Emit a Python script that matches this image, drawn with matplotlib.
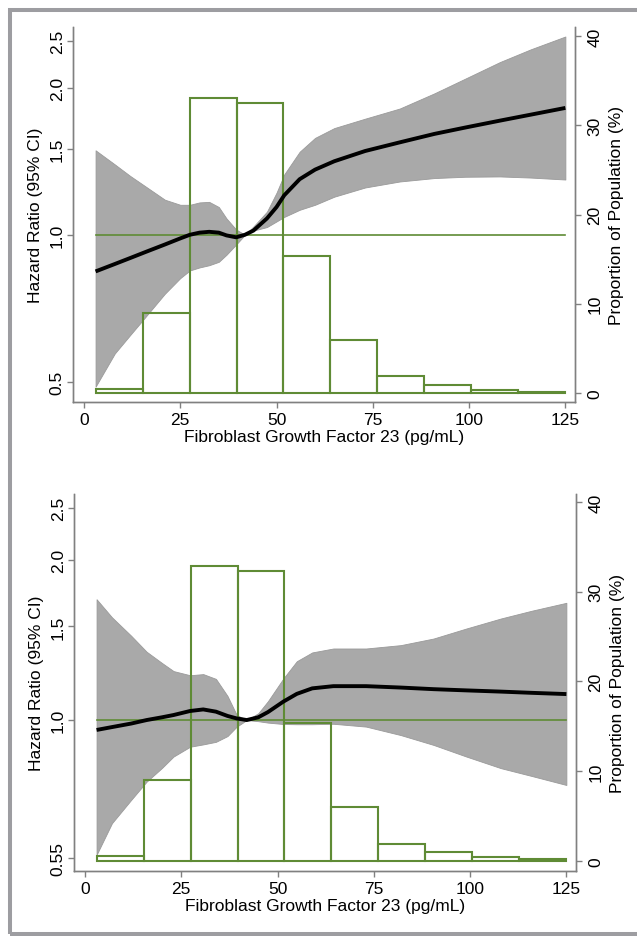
import numpy as np
import matplotlib
matplotlib.use('Agg')
import matplotlib.pyplot as plt
from matplotlib.patches import Rectangle
from matplotlib.ticker import NullLocator

plt.rcParams['font.family'] = ['Liberation Sans', 'DejaVu Sans']

# ---------------------------------------------------------------------------
# Data
# ---------------------------------------------------------------------------
bin_edges = [3.0, 15.2, 27.4, 39.6, 51.8, 64.0, 76.2, 88.4, 100.6, 112.8, 125.0]

# top panel
top_x = [3, 8, 12, 16, 21, 25, 27.5, 30, 32.5, 35, 37, 39.5, 41.8, 44, 47.5,
         50, 52, 56, 60, 65, 73, 82, 91, 99, 108, 116, 125]
top_hr = [0.841, 0.871, 0.896, 0.922, 0.955, 0.983, 1.000, 1.010, 1.014, 1.010,
          0.997, 0.988, 1.000, 1.020, 1.080, 1.140, 1.205, 1.300, 1.360, 1.415,
          1.485, 1.547, 1.610, 1.659, 1.714, 1.763, 1.820]
top_hi = [1.490, 1.394, 1.320, 1.256, 1.180, 1.152, 1.152, 1.165, 1.168, 1.140,
          1.080, 1.025, 1.000, 1.040, 1.115, 1.220, 1.330, 1.480, 1.580, 1.655,
          1.730, 1.815, 1.950, 2.090, 2.260, 2.400, 2.550]
top_lo = [0.488, 0.571, 0.623, 0.679, 0.757, 0.815, 0.845, 0.857, 0.866, 0.880,
          0.910, 0.955, 1.000, 1.020, 1.037, 1.065, 1.088, 1.125, 1.152, 1.197,
          1.250, 1.286, 1.307, 1.315, 1.317, 1.310, 1.298]
top_pct = [0.5, 9.0, 33.0, 32.5, 15.3, 5.9, 1.9, 0.95, 0.4, 0.1]

# bottom panel
bot_x = [3, 7, 12, 16, 20, 23, 27.3, 30.7, 34, 37, 39.4, 42, 45, 47.5, 51.5,
         55, 59, 64.5, 73, 82, 90.5, 99, 108, 116, 125]
bot_hr = [0.958, 0.970, 0.985, 1.000, 1.012, 1.022, 1.040, 1.047, 1.037, 1.018,
          1.007, 1.000, 1.012, 1.035, 1.083, 1.120, 1.147, 1.158, 1.158, 1.151,
          1.143, 1.137, 1.131, 1.125, 1.119]
bot_hi = [1.687, 1.560, 1.440, 1.344, 1.280, 1.236, 1.214, 1.220, 1.195, 1.110,
          1.022, 1.000, 1.030, 1.085, 1.197, 1.290, 1.340, 1.363, 1.363, 1.383,
          1.423, 1.486, 1.552, 1.605, 1.661]
bot_lo = [0.558, 0.640, 0.708, 0.766, 0.813, 0.854, 0.891, 0.900, 0.910, 0.933,
          0.972, 1.000, 0.995, 0.989, 0.983, 0.982, 0.982, 0.984, 0.972, 0.937,
          0.898, 0.854, 0.812, 0.785, 0.755]
bot_pct = [0.55, 9.0, 32.9, 32.3, 15.4, 5.95, 1.9, 1.0, 0.45, 0.2]

x_ticks = [0, 25, 50, 75, 100, 125]
pct_ticks = [0, 10, 20, 30, 40]
top_hr_ticks = [0.5, 1.0, 1.5, 2.0, 2.5]
top_hr_labels = ['0.5', '1.0', '1.5', '2.0', '2.5']
bot_hr_ticks = [0.55, 1.0, 1.5, 2.0, 2.5]
bot_hr_labels = ['0.55', '1.0', '1.5', '2.0', '2.5']

# ---------------------------------------------------------------------------
# Styling
# ---------------------------------------------------------------------------
W, H = 637, 937
band_color = '#a9a9a9'
band_edge = '#9a9a9a'
green = '#5f8b35'
spine_color = '#808080'
frame_color = '#9d9da1'
fs = 12.5


def px_axes(left, right, top, bottom):
    return [left / W, 1 - bottom / H, (right - left) / W, (bottom - top) / H]


def draw_panel(fig, pos, x, hr, lo, hi, pct, hr_lim, pct_lim, hr_ticks, hr_labels):
    ax = fig.add_axes(pos)
    ax.set_yscale('log')
    ax.fill_between(x, lo, hi, color=band_color, edgecolor=band_edge,
                    linewidth=0.6, zorder=1)
    ax.set_xlim(-2.86, 127.5)
    ax.set_ylim(*hr_lim)

    ax2 = ax.twinx()
    widths = np.diff(bin_edges)
    ax2.bar(bin_edges[:-1], pct, width=widths, align='edge', facecolor='none',
            edgecolor=green, linewidth=1.5, zorder=2)
    # reference line and spline drawn in hazard-ratio coordinates, above bars
    ax2.plot([bin_edges[0], bin_edges[-1]], [1.0, 1.0], color=green,
             linewidth=1.2, transform=ax.transData, zorder=3)
    ax2.plot(x, hr, color='black', linewidth=2.8, solid_capstyle='butt',
             solid_joinstyle='round', transform=ax.transData, zorder=4)
    ax2.set_ylim(*pct_lim)
    ax2.set_xlim(-2.86, 127.5)

    for a in (ax, ax2):
        a.spines['top'].set_visible(False)
        for s in ('left', 'right', 'bottom'):
            a.spines[s].set_color(spine_color)
            a.spines[s].set_linewidth(1.0)

    ax.set_yticks(hr_ticks, hr_labels)
    ax.yaxis.set_minor_locator(NullLocator())
    ax.set_xticks(x_ticks)
    ax.tick_params(axis='y', direction='out', length=4.5, width=1,
                   color=spine_color, labelsize=fs, pad=1.5, labelrotation=90)
    ax.tick_params(axis='x', direction='out', length=4.5, width=1,
                   color=spine_color, labelsize=fs, pad=3)
    for lab in ax.get_yticklabels():
        lab.set_va('center')

    ax2.set_yticks(pct_ticks)
    ax2.tick_params(axis='y', direction='out', length=4.5, width=1,
                    color=spine_color, labelsize=fs, pad=4.5, labelrotation=90)
    for lab in ax2.get_yticklabels():
        lab.set_va('center')

    ax.set_ylabel('Hazard Ratio (95% CI)', fontsize=fs, labelpad=4.5)
    ax2.set_ylabel('Proportion of Population (%)', fontsize=fs, labelpad=4.5)
    ax.set_xlabel('Fibroblast Growth Factor 23 (pg/mL)', fontsize=fs, labelpad=1)
    return ax, ax2


fig = plt.figure(figsize=(W / 100, H / 100), dpi=100)

draw_panel(fig, px_axes(73, 575, 28, 403), top_x, top_hr, top_lo, top_hi,
           top_pct, (0.454, 2.667), (-1.0, 41.0), top_hr_ticks, top_hr_labels)
draw_panel(fig, px_axes(74, 576, 495, 871.7), bot_x, bot_hr, bot_lo, bot_hi,
           bot_pct, (0.521, 2.66), (-1.1, 40.9), bot_hr_ticks, bot_hr_labels)

# outer grey frame (right edge lies outside the image)
fig.add_artist(Rectangle((9.5 / W, 1 - 935 / H), 1.2, (935 - 10.5) / H,
                         transform=fig.transFigure, fill=False,
                         edgecolor=frame_color, linewidth=2.9))

fig.savefig('out.png', dpi=100, facecolor='white')
